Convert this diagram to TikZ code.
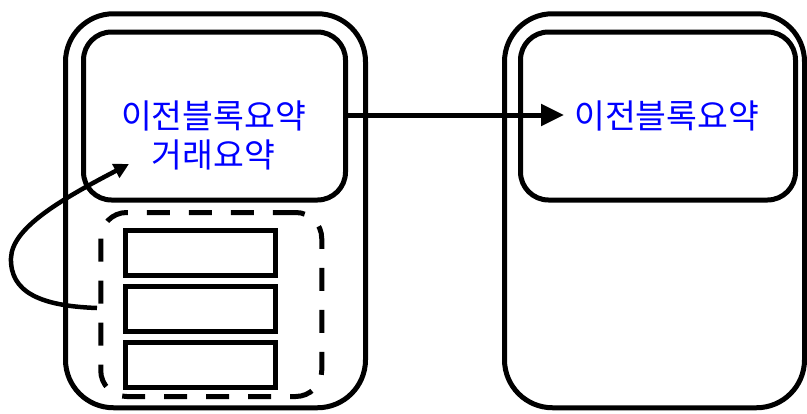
\documentclass[tikz,border=0pt]{standalone}
\usepackage{fontspec}
\newfontfamily\krfont{Noto Sans CJK KR}
\usetikzlibrary{arrows.meta}
\definecolor{txtblue}{RGB}{0,0,255}
\tikzset{
  box/.style={draw=black, line width=5pt, inner sep=0pt, outer sep=0pt, fill=none},
  outerbox/.style={box, rounded corners=48pt, minimum width=300pt, minimum height=394pt},
  innerbox/.style={box, rounded corners=28pt, minimum height=168pt},
  dashbox/.style={box, rounded corners=26pt, dash pattern=on 23pt off 19pt, minimum width=221pt, minimum height=184pt},
  txbox/.style={box, line width=5pt, minimum width=150pt, minimum height=45pt},
  lbl/.style={text=txtblue, font=\krfont\fontsize{33.5}{39}\selectfont, align=center, inner sep=0pt},
  conn/.style={line width=5pt, draw=black}
}
\begin{document}
\begin{tikzpicture}[x=1pt,y=-1pt]
\useasboundingbox (0,0) rectangle (807,413);
% left block
\node[outerbox] (lout) at (215.5,210.75) {};
\node[innerbox, minimum width=262pt] (lin) at (214.5,116) {};
\node[dashbox] (dash) at (211.25,304.5) {};
\node[txbox] (t1) at (200.5,253) {};
\node[txbox] (t2) at (200.5,308.5) {};
\node[txbox] (t3) at (200.5,365) {};
\node[lbl] (ltext) at (213.5,135) {이전블록요약\\거래요약};
% right block
\node[outerbox] (rout) at (654.5,210.75) {};
\node[innerbox, minimum width=275pt] (rin) at (658,116) {};
\node[lbl, anchor=west] (rtext) at (574,116) {이전블록요약};
% connectors
\draw[conn, -{Triangle[length=23pt,width=21pt]}] (lin.east |- 0,115) -- ([xshift=-10pt]rtext.west |- 0,115);
\coordinate (cstart) at (97,308);
\coordinate (cend) at (129,164);
\draw[conn, line width=4.5pt, -{Triangle[length=15pt,width=15pt]}]
  (cstart) .. controls (40,306) and (10,292) .. (11,258)
  .. controls (12,228) and (60,200) .. (cend);
\end{tikzpicture}
\end{document}
